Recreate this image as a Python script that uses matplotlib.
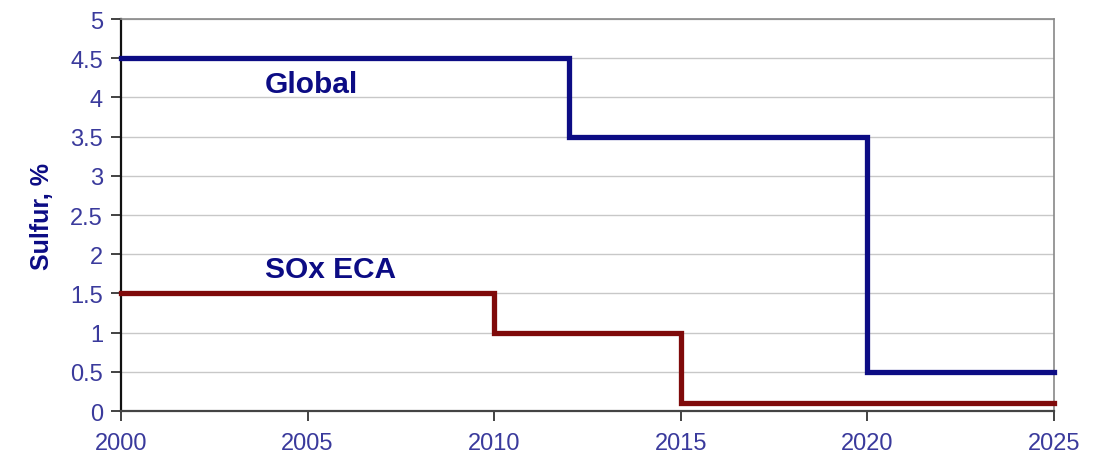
import matplotlib.pyplot as plt

# sulfur limits, % (step changes)
global_years = [2000, 2012, 2020, 2025]
global_sulfur = [4.5, 3.5, 0.5, 0.5]
eca_years = [2000, 2010, 2015, 2025]
eca_sulfur = [1.5, 1.0, 0.1, 0.1]

x_ticks = [2000, 2005, 2010, 2015, 2020, 2025]
y_ticks = [0, 0.5, 1, 1.5, 2, 2.5, 3, 3.5, 4, 4.5, 5]
y_tick_labels = ['0', '0.5', '1', '1.5', '2', '2.5', '3', '3.5', '4', '4.5', '5']

plt.rcParams['font.family'] = ['Liberation Sans', 'DejaVu Sans']

navy = '#0c0c84'
dark_red = '#7f0a0a'
tick_color = '#3a3a9c'

fig = plt.figure(figsize=(10.93, 4.6), dpi=100)
ax = fig.add_axes([0.1107, 0.1043, 0.8536, 0.8522])

ax.plot(global_years, global_sulfur, drawstyle='steps-post', color=navy, lw=3.8,
        solid_joinstyle='miter', clip_on=False, zorder=4)
ax.plot(eca_years, eca_sulfur, drawstyle='steps-post', color=dark_red, lw=3.8,
        solid_joinstyle='miter', clip_on=False, zorder=4)

ax.text(2003.85, 4.17, 'Global', color=navy, fontsize=21.5, fontweight='bold',
        va='center', ha='left')
ax.text(2003.85, 1.81, 'SOx ECA', color=navy, fontsize=21.5, fontweight='bold',
        va='center', ha='left')

ax.set_xlim(2000, 2025)
ax.set_ylim(0, 5)
ax.set_xticks(x_ticks)
ax.set_yticks(y_ticks)
ax.set_yticklabels(y_tick_labels)
ax.grid(axis='y', color='#c8c8c8', lw=1.0)
ax.set_axisbelow(True)

ax.tick_params(axis='both', colors='#222222', labelcolor=tick_color, labelsize=17,
               direction='out', length=7, width=1.2)
ax.tick_params(axis='x', pad=8)
ax.tick_params(axis='y', pad=6)

ax.spines['left'].set_color('#111111')
ax.spines['left'].set_linewidth(1.6)
ax.spines['bottom'].set_color('#444444')
ax.spines['bottom'].set_linewidth(1.6)
ax.spines['top'].set_color('#888888')
ax.spines['right'].set_color('#888888')
ax.spines['top'].set_linewidth(1.2)
ax.spines['right'].set_linewidth(1.2)

ax.set_ylabel('Sulfur, %', color=navy, fontsize=18, fontweight='bold', labelpad=12)

fig.savefig('out.png', dpi=100)
